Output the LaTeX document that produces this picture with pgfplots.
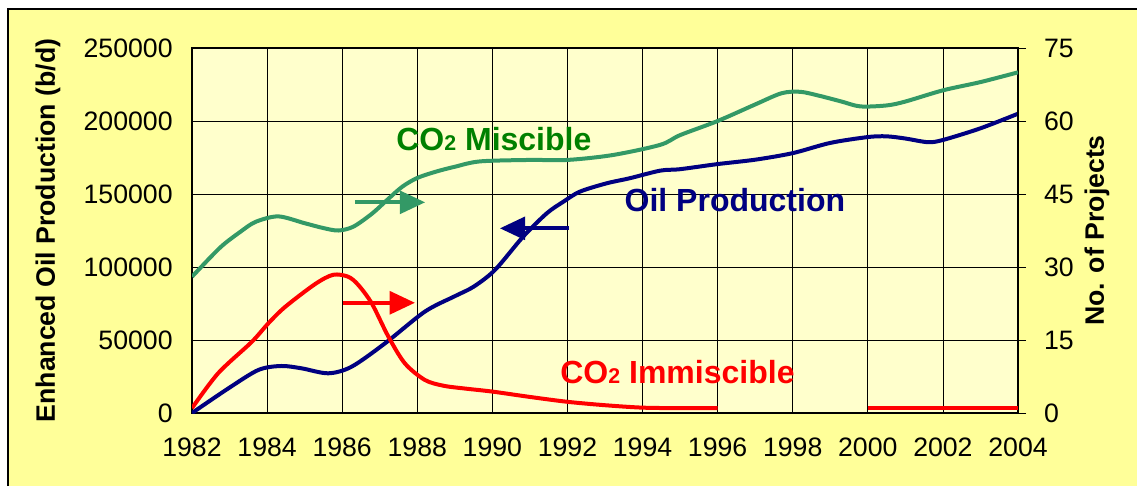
\documentclass[border=0pt]{standalone}
\usepackage{pgfplots}
\pgfplotsset{compat=1.18}
\usepackage{fontspec}
\setmainfont{Liberation Sans}
\usetikzlibrary{arrows.meta}

\definecolor{outerbg}{HTML}{FFFF99}
\definecolor{plotbg}{HTML}{FFFFCC}
\definecolor{oilblue}{HTML}{000080}
\definecolor{misgreen}{HTML}{339966}
\definecolor{mistext}{HTML}{008000}
\definecolor{immred}{HTML}{FF0000}

\newcommand{\tickfont}{\fontsize{20}{24}\selectfont}
\newcommand{\lblfont}{\fontsize{24}{28}\selectfont\bfseries}

\begin{document}
\begin{tikzpicture}
\useasboundingbox (-144pt,-54.75pt) rectangle (708.75pt,309.75pt);
\fill[outerbg] (-138pt,-54.75pt) rectangle (708.75pt,303pt);
\draw[black, line width=1pt] (-138pt,-54.75pt) -- (-138pt,303pt) -- (708.75pt,303pt);

\pgfplotsset{
  every axis/.append style={
    scale only axis, width=619.5pt, height=273.75pt,
    at={(0,0)}, anchor=south west,
    xmin=1982, xmax=2004,
    /pgf/number format/assume math mode=true,
    /pgf/number format/fixed,
    /pgf/number format/precision=0,
    /pgf/number format/1000 sep={},
    tick label style={font=\tickfont},
    label style={font=\fontsize{20}{24}\selectfont\bfseries},
    tick style={black, line width=0.6pt},
  }
}

\begin{axis}[
  axis background/.style={fill=plotbg},
  axis line style={black, line width=0.8pt},
  ymin=0, ymax=250000,
  ytick={0,50000,100000,150000,200000,250000},
  scaled y ticks=false,
  xtick={1982,1984,...,2004},
  xtick pos=bottom, ytick pos=left,
  grid=major,
  major grid style={black, line width=0.6pt},
  yticklabel style={xshift=-11pt},
  xticklabel style={yshift=-15pt},
  ylabel={Enhanced Oil Production (b/d)},
  ylabel style={at={(axis description cs:-0.1743,0.5)}, anchor=center},
]
\addplot[oilblue, line width=3pt, smooth] coordinates {
  (1982,0) (1982.97,16900) (1983.77,29500) (1984.38,32200) (1984.92,30600)
  (1985.63,27200) (1986.25,31700) (1987.14,47700) (1988.2,69400) (1989,80000)
  (1989.5,86500) (1990.07,98000) (1990.82,120800) (1991.45,136800) (1991.89,144700)
  (1992.33,151600) (1993.04,157300) (1993.66,160800) (1994.47,166000) (1995,167000)
  (1996,170500) (1997,173500) (1998,178000) (1999,185000) (2000,189000)
  (2000.5,189500) (2001,188000) (2001.6,185500) (2002,187000) (2003,195000)
  (2004,205000)
};
\node[mistext, font=\lblfont, anchor=base] at (axis cs:1990.04,179700)
  {CO{\fontsize{16}{16}\selectfont 2} Miscible};
\node[oilblue, font=\lblfont, anchor=base] at (axis cs:1996.46,137900)
  {Oil Production};
\node[immred, font=\lblfont, anchor=base] at (axis cs:1994.93,20300)
  {CO{\fontsize{16}{16}\selectfont 2} Immiscible};
\draw[misgreen, line width=3pt, -{Triangle[length=19pt,width=17pt]}]
  (axis cs:1986.34,144300) -- (axis cs:1988.21,144300);
\draw[immred, line width=3pt, -{Triangle[length=19pt,width=17pt]}]
  (axis cs:1986.02,75500) -- (axis cs:1987.94,75500);
\draw[oilblue, line width=3pt, -{Triangle[length=19pt,width=17pt]}]
  (axis cs:1992.04,126500) -- (axis cs:1990.20,126500);
\end{axis}

\begin{axis}[
  axis y line*=right, axis x line=none,
  axis line style={black, line width=0.8pt},
  ymin=0, ymax=75,
  ytick={0,15,...,75},
  tick align=center,
  major tick length=12pt,
  yticklabel style={xshift=10pt},
  ylabel={No. of Projects},
  ylabel style={at={(axis description cs:1.0956,0.5)}, anchor=center},
]
\addplot[misgreen, line width=3pt, smooth] coordinates {
  (1982,28) (1982.75,34) (1983.3,37.3) (1983.7,39.3) (1984.3,40.4)
  (1985,39) (1985.5,38) (1985.9,37.5) (1986.3,38.3) (1986.8,41)
  (1987.2,43.8) (1987.6,46.5) (1988,48.3) (1988.5,49.6) (1989,50.6)
  (1989.67,51.7) (1991,52) (1992,52) (1993.2,53) (1994.47,55.1)
  (1995,57.1) (1996,60) (1997,63.4) (1997.7,65.7) (1998.2,66)
  (1998.7,65.2) (1999.3,64) (1999.8,63) (2000.5,63.2) (2001,64)
  (2002,66.3) (2003,68) (2004,70)
};
\addplot[immred, line width=3pt, smooth] coordinates {
  (1982,1.0) (1982.7,8.2) (1983.59,14.6) (1984.03,18.4) (1984.48,21.8)
  (1985.28,26.5) (1985.76,28.4) (1986.16,28.0) (1986.43,26.3) (1986.79,22.5)
  (1987.23,15.7) (1987.67,10.2) (1988.2,6.8) (1988.7,5.6) (1989.3,5.0)
  (1990,4.4) (1991,3.3) (1992,2.3) (1993,1.6) (1994,1.1) (1995,1.0) (1996,1.0)
};
\addplot[immred, line width=3pt] coordinates {
  (2000,1.0) (2002,1.0) (2004,1.0)
};
\end{axis}
\end{tikzpicture}
\end{document}
